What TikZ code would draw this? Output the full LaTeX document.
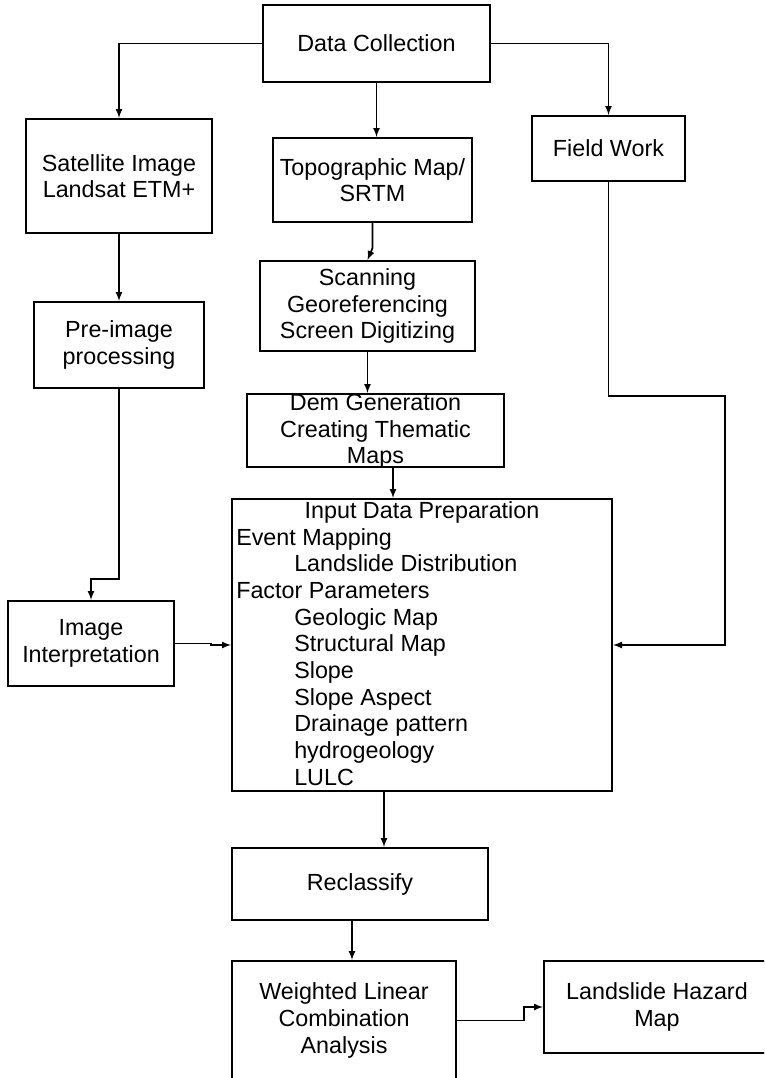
\documentclass[tikz,border=0pt]{standalone}
\usepackage{fontspec}
\setmainfont{Liberation Sans}
\usetikzlibrary{arrows, positioning, calc}

\begin{document}
\begin{tikzpicture}[x=0.75pt, y=-0.75pt,
    box/.style={draw, line width=1.6pt, align=center, inner sep=2pt,
        font=\fontsize{17.5}{20}\selectfont},
    lbl/.style={inner sep=0pt, font=\fontsize{17.5}{20}\selectfont},
    arr/.style={-latex, line width=1.3pt}]
\useasboundingbox (0,0) rectangle (764,1078);
\clip (0,0) rectangle (764,1078);

\node[box, minimum width=170.25pt, minimum height=57.75pt] (datacoll) at (376.5,43.5) {Data Collection};
\node[box, minimum width=139.5pt, minimum height=85.5pt] (satellite) at (119,176) {Satellite Image\\Landsat ETM+};
\node[box, minimum width=149.25pt, minimum height=63pt] (topo) at (372.5,180) {Topographic Map/\\SRTM};
\node[box, minimum width=114.75pt, minimum height=48.75pt] (fieldwork) at (608.5,148.5) {Field Work};
\node[box, minimum width=127.5pt, minimum height=64.5pt] (preimage) at (119,345) {Pre-image\\processing};
\node[box, minimum width=161.25pt, minimum height=67.5pt] (scanning) at (367.5,306) {Scanning\\Georeferencing\\Screen Digitizing};
\node[box, minimum width=192.75pt, minimum height=54.75pt] (dem) at (375.5,430.5) {};
\node[lbl, align=center] (demtext) at (375.5,431) {Dem Generation\\Creating Thematic\\Maps};
\node[box, minimum width=285pt, minimum height=219pt] (input) at (422,645) {};
\node[lbl] (inputtitle) at (422,512) {Input Data Preparation};
\node[lbl, align=left, anchor=north west] (inputlist) at (236,528) {Event Mapping\\
    \hspace*{43.5pt}Landslide Distribution\\
    Factor Parameters\\
    \hspace*{43.5pt}Geologic Map\\
    \hspace*{43.5pt}Structural Map\\
    \hspace*{43.5pt}Slope\\
    \hspace*{43.5pt}Slope Aspect\\
    \hspace*{43.5pt}Drainage pattern\\
    \hspace*{43.5pt}hydrogeology\\
    \hspace*{43.5pt}LULC};
\node[box, minimum width=124.5pt, minimum height=63.75pt] (imageinterp) at (91,643.5) {Image\\Interpretation};
\node[box, minimum width=192pt, minimum height=54pt] (reclassify) at (360,884) {Reclassify};
\node[box, minimum width=168pt, minimum height=89.25pt] (weighted) at (344,1020.5) {Weighted Linear\\Combination\\Analysis};
\node[box, minimum width=169.5pt, minimum height=69pt] (hazard) at (657,1007) {Landslide Hazard\\Map};

\coordinate (fwturn) at (725,396);
\coordinate (demout) at ($(dem.south)+(17.5,0)$);
\coordinate (inputout) at ($(input.south)+(-38,0)$);
\coordinate (reclassout) at ($(reclassify.south)+(-8,0)$);

\draw[arr] (datacoll.west) -| (satellite.north);
\draw[arr] (datacoll.east) -| (fieldwork.north);
\draw[arr] (datacoll.south) -- (datacoll.south |- topo.north);
\draw[arr] (satellite.south) -- (preimage.north);
\draw[arr] (topo.south) -- ++(0,25) -- (scanning.north);
\draw[arr] (scanning.south) -- (scanning.south |- dem.north);
\draw[arr] (demout) -- (demout |- input.north);
\draw[arr] (preimage.south) -- ++(0,190) -| (imageinterp.north);
\draw[arr] (imageinterp.east) -- ++(36,0) |- (input.west);
\draw[arr] (fieldwork.south) |- (fwturn) |- (input.east);
\draw[arr] (inputout) -- (inputout |- reclassify.north);
\draw[arr] (reclassout) -- (reclassout |- weighted.north);
\draw[arr] (weighted.east) -- ++(67,0) |- (hazard.west);
\end{tikzpicture}
\end{document}
